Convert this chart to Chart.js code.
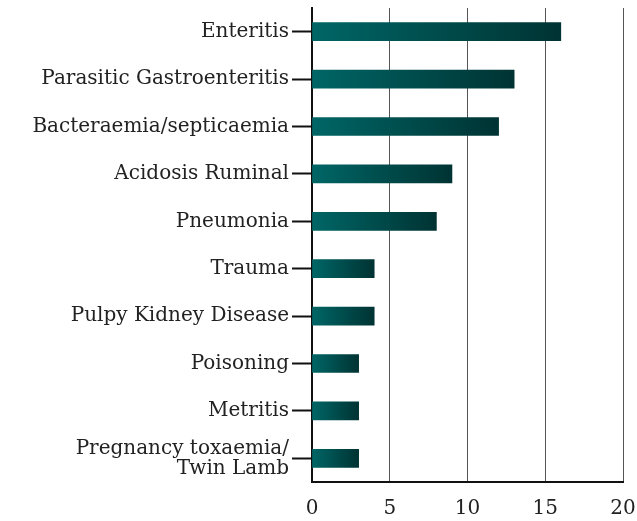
<!DOCTYPE html>
<html>
    <head>
        <meta charset="utf-8">
        <title>Causes of death</title>
        <script src="https://cdn.jsdelivr.net/npm/chart.js"></script>
        <style>
            html, body {
                margin: 0;
                padding: 0;
                background: #ffffff;
            }
            canvas {
                display: block;
            }
        </style>
    </head>
    <body>
        <canvas id="causeChart" width="637" height="521"></canvas>
        <script>
            const causes = [
                "Enteritis",
                "Parasitic Gastroenteritis",
                "Bacteraemia/septicaemia",
                "Acidosis Ruminal",
                "Pneumonia",
                "Trauma",
                "Pulpy Kidney Disease",
                "Poisoning",
                "Metritis",
                ["Pregnancy toxaemia/", "Twin Lamb"]
            ];
            const cases = [16, 13, 12, 9, 8, 4, 4, 3, 3, 3];
            const xMin = 0;
            const xMax = 20;
            const xStep = 5;

            // gradient per bar, from the zero line to the end of the bar
            function barGradient(ctx) {
                const chart = ctx.chart;
                if (!chart.chartArea || !chart.scales.x) {
                    return "#005555";
                }
                const x = chart.scales.x;
                const x0 = x.getPixelForValue(0);
                const x1 = x.getPixelForValue(ctx.raw || 0);
                const g = chart.ctx.createLinearGradient(x0, 0, Math.max(x1, x0 + 1), 0);
                g.addColorStop(0, "#006666");
                g.addColorStop(1, "#003333");
                return g;
            }

            new Chart(document.getElementById("causeChart").getContext("2d"), {
                type: "bar",
                data: {
                    labels: causes,
                    datasets: [{
                        data: cases,
                        backgroundColor: barGradient,
                        borderWidth: 0,
                        barThickness: 18
                    }]
                },
                options: {
                    indexAxis: "y",
                    responsive: false,
                    animation: false,
                    layout: {
                        padding: { left: 0, right: 14, top: 8, bottom: 0 }
                    },
                    plugins: {
                        legend: { display: false },
                        tooltip: { enabled: false }
                    },
                    scales: {
                        x: {
                            min: xMin,
                            max: xMax,
                            ticks: {
                                stepSize: xStep,
                                color: "#222222",
                                padding: 15,
                                font: { family: "DejaVu Serif", size: 20 }
                            },
                            grid: {
                                color: "#555555",
                                lineWidth: 1,
                                drawTicks: false
                            },
                            border: { color: "#111111", width: 2 },
                            afterFit: function (scale) {
                                scale.height = 39;
                                scale.paddingLeft = 0;
                                scale.paddingRight = 0;
                            }
                        },
                        y: {
                            ticks: {
                                color: "#222222",
                                padding: 3,
                                font: { family: "DejaVu Serif", size: 20, lineHeight: 1.0 }
                            },
                            grid: {
                                drawOnChartArea: false,
                                offset: false,
                                tickLength: 20,
                                tickColor: "#111111",
                                tickWidth: 2
                            },
                            border: { color: "#111111", width: 2 },
                            afterFit: function (scale) {
                                scale.width = 312;
                                scale.paddingTop = 0;
                                scale.paddingBottom = 0;
                            }
                        }
                    }
                }
            });
        </script>
    </body>
</html>
